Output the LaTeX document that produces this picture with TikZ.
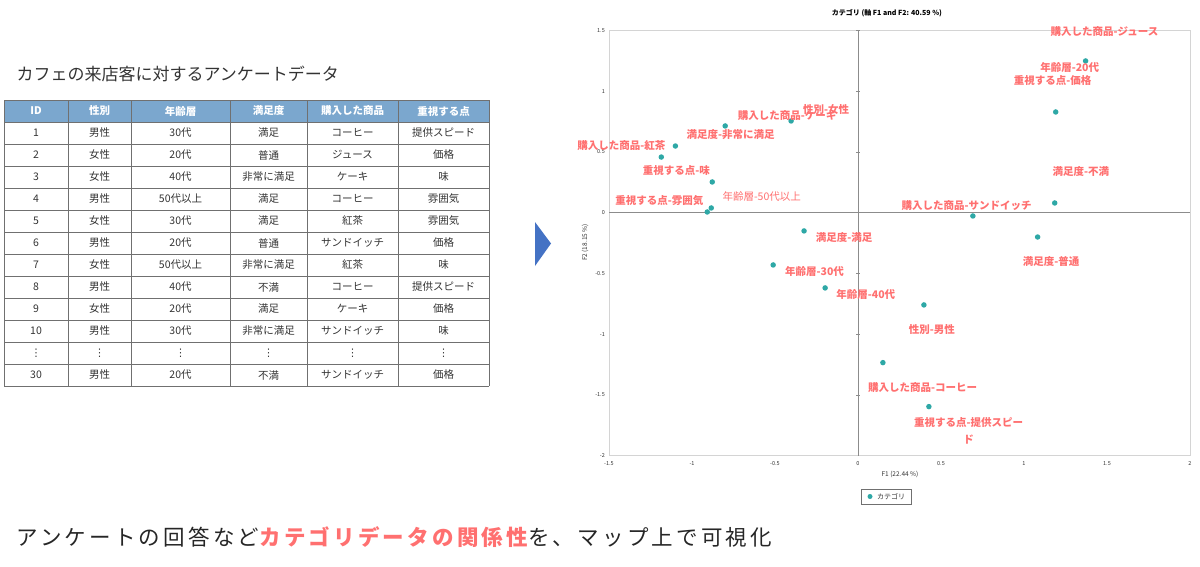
\documentclass[tikz,border=0pt]{standalone}
\usepackage{fontspec}
\setmainfont{Noto Sans CJK JP}
\newfontfamily\captionfont{Noto Sans CJK JP}[LetterSpace=15]
\newfontfamily\symfont{DejaVu Sans}
\usepackage{tikz}
\usepackage{xcolor}
\usetikzlibrary{positioning}

\definecolor{headblue}{HTML}{7BA7CE}
\definecolor{tablegray}{HTML}{707070}
\definecolor{labelred}{HTML}{FF7070}
\definecolor{dotteal}{HTML}{2EA8A6}
\definecolor{arrowblue}{HTML}{4472C4}
\definecolor{framegray}{HTML}{D4D4D4}
\definecolor{axisgray}{HTML}{8C8C8C}

\newcommand{\vdotcell}{{\symfont ⋮}}

\tikzset{
  cell/.style={font=\fontsize{10.5}{12}\selectfont, text=black!80},
  headcell/.style={font=\fontsize{10.5}{12}\selectfont\bfseries, text=white},
  lbl/.style={font=\fontsize{10.5}{17}\selectfont\bfseries, text=labelred, inner sep=0pt},
  dot/.style={circle, fill=dotteal, inner sep=0pt, minimum size=5.5pt},
  ticklbl/.style={font=\fontsize{5.5}{6}\selectfont, text=black!80, inner sep=1pt}
}

\begin{document}
\begin{tikzpicture}[x=1pt,y=-1pt]
			\useasboundingbox (0,0) rectangle (1200,566);

			% left: survey table
			\node[anchor=west, font=\fontsize{17}{20}\selectfont, text=black!80] (tabletitle) at (13,74) {カフェの来店客に対するアンケートデータ};
			\fill[headblue] (4,100) rectangle (489,122);
			\foreach \y in {100,122,...,386} \draw[tablegray] (4,\y) -- (489,\y);
			\foreach \x in {4,68,131,230,307,398,489} \draw[tablegray] (\x,100) -- (\x,386);

			\foreach \h/\cx [count=\i] in {ID/36,性別/99.5,年齢層/180.5,満足度/268.5,購入した商品/352.5,重視する点/443.5}
				\node[headcell] (head\i) at (\cx,111) {\h};

			\foreach \n/\a/\b/\c/\d/\e [count=\r] in {
					1/男性/30代/満足/コーヒー/提供スピード,
					2/女性/20代/普通/ジュース/価格,
					3/女性/40代/非常に満足/ケーキ/味,
					4/男性/50代以上/満足/コーヒー/雰囲気,
					5/女性/30代/満足/紅茶/雰囲気,
					6/男性/20代/普通/サンドイッチ/価格,
					7/女性/50代以上/非常に満足/紅茶/味,
					8/男性/40代/不満/コーヒー/提供スピード,
					9/女性/20代/満足/ケーキ/価格,
					10/男性/30代/非常に満足/サンドイッチ/味,
					\vdotcell/\vdotcell/\vdotcell/\vdotcell/\vdotcell/\vdotcell,
					30/男性/20代/不満/サンドイッチ/価格} {
				\node[cell] (id\r) at (36,{111+22*\r}) {\n};
				\node[cell] (sex\r) at (99.5,{111+22*\r}) {\a};
				\node[cell] (age\r) at (180.5,{111+22*\r}) {\b};
				\node[cell] (sat\r) at (268.5,{111+22*\r}) {\c};
				\node[cell] (item\r) at (352.5,{111+22*\r}) {\d};
				\node[cell] (point\r) at (443.5,{111+22*\r}) {\e};
			}

			% arrow
			\fill[arrowblue] (535,222) -- (551,243.5) -- (535,266) -- cycle;

			% right: correspondence map
			\node[font=\fontsize{7}{8}\selectfont\bfseries] (charttitle) at (887,13.5) {カテゴリ (軸 F1 and F2: 40.59 \%)};
			\node[rotate=90, font=\fontsize{6.5}{7}\selectfont, text=black!80] (f2label) at (585,242.5) {F2 (18.15 \%)};
			\node[font=\fontsize{6.5}{7}\selectfont, text=black!80] (f1label) at (900,474) {F1 (22.44 \%)};

			\begin{scope}[shift={(858,212.7)}, x=166pt, y=121.5pt]
				\draw[framegray, line width=0.8pt] (-1.5,-2) rectangle (2,1.5);
				\draw[axisgray, line width=0.9pt] (-1.5,0) -- (2,0);
				\draw[axisgray, line width=0.9pt] (0,-2) -- (0,1.5);
				\foreach \t in {-1.5,-1,-0.5,0.5,1,1.5} \draw[axisgray] (-0.012,\t) -- (0.012,\t);

				\foreach \t [count=\i] in {-2,-1.5,-1,-0.5,0,0.5,1,1.5}
					\node[ticklbl, anchor=east] (ytick\i) at ([xshift=-3pt]-1.5,\t) {\t};
				\foreach \t [count=\i] in {-1.5,-1,-0.5,0,0.5,1,1.5,2}
					\node[ticklbl] (xtick\i) at ([yshift=-8pt]\t,-2) {\t};

				% category points
				\foreach \px/\py [count=\i] in {1.371/1.249, 1.191/0.829, -0.403/0.755, -0.800/0.714,
						-1.100/0.549, -1.185/0.458, -0.878/0.253, -0.884/0.039, -0.908/0.006,
						-0.325/-0.150, 0.692/-0.027, 1.185/0.080, 1.082/-0.200, -0.511/-0.430,
						-0.198/-0.619, 0.397/-0.759, 0.150/-1.234, 0.427/-1.596}
					\node[dot] (pt\i) at (\px,\py) {};

				% category labels
				\foreach \lx/\ly/\txt [count=\i] in {
						1.485/1.495/購入した商品-ジュース,
						1.275/1.193/年齢層-20代,
						1.173/1.084/重視する点-価格,
						-0.427/0.800/購入した商品-ケーキ,
						-0.192/0.853/性別-女性,
						-0.767/0.640/満足度-非常に満足,
						-1.425/0.549/購入した商品-紅茶,
						-1.094/0.346/重視する点-味,
						-1.197/0.096/重視する点-雰囲気,
						0.655/0.058/購入した商品-サンドイッチ,
						1.342/0.337/満足度-不満,
						-0.084/-0.206/満足度-満足,
						1.164/-0.403/満足度-普通,
						-0.262/-0.480/年齢層-30代,
						0.047/-0.672/年齢層-40代,
						0.445/-0.965/性別-男性,
						0.389/-1.440/購入した商品-コーヒー}
					\node[lbl] (lab\i) at (\lx,\ly) {\txt};
				\node[lbl, font=\fontsize{10.5}{12}\selectfont] (lab18) at (-0.580,0.132) {年齢層-50代以上};
				\node[lbl, align=center] (lab19) at (0.666,-1.794) {重視する点-提供スピー\\ド};
			\end{scope}

			% legend
			\draw[tablegray, line width=0.6pt] (861,489) rectangle (911,504);
			\node[dot, minimum size=5pt] (legdot) at (870,496.5) {};
			\node[font=\fontsize{7}{8}\selectfont, text=black!80, right=1pt of legdot] (legtext) {カテゴリ};

			% caption
			\node[anchor=west, font=\captionfont\fontsize{21.5}{24}\selectfont, text=black!85, inner sep=0pt] (caption) at (16,537)
				{アンケートの回答など\textcolor{labelred}{\bfseries カテゴリデータの関係性}を、マップ上で可視化};
		\end{tikzpicture}
\end{document}
